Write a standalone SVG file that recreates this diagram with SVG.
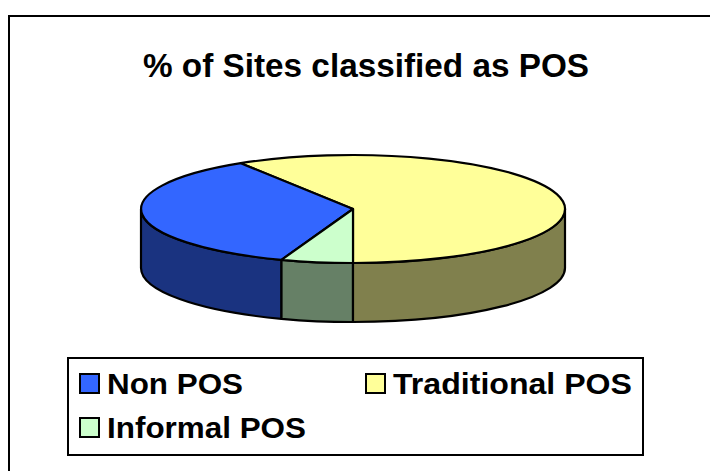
<svg xmlns="http://www.w3.org/2000/svg" width="710" height="471" viewBox="0 0 710 471">
  <style>
    .edge { stroke: #000; stroke-width: 2.2; stroke-linejoin: round; }
    .title { font-family: "Liberation Sans", Arial, sans-serif; font-weight: bold; font-size: 33px; fill: #000; }
    .lbl { font-family: "Liberation Sans", Arial, sans-serif; font-weight: bold; font-size: 29px; fill: #000; }
    .key { stroke: #000; stroke-width: 2; }
  </style>
  <rect x="0" y="0" width="710" height="471" fill="#fff"/>
  <!-- chart area frame -->
  <rect x="9" y="16" width="720" height="480" fill="#fff" stroke="#000" stroke-width="2"/>

  <g id="title">
    <text class="title" x="143" y="77" textLength="446" lengthAdjust="spacingAndGlyphs">% of Sites classified as POS</text>
  </g>

  <!-- pie sides (front half) -->
  <g id="sides" class="edge">
    <path d="M281.5,259.8 A212,54 0 0 1 141,209 L141,268 A212,54 0 0 0 281.5,318.8 Z" fill="#1a3380"/>
    <path d="M353,263 A212,54 0 0 1 281.5,259.8 L281.5,318.8 A212,54 0 0 0 353,322 Z" fill="#668066"/>
    <path d="M565,209 A212,54 0 0 1 353,263 L353,322 A212,54 0 0 0 565,268 Z" fill="#80804d"/>
  </g>

  <!-- pie tops -->
  <g id="slice-traditional" class="edge">
    <path d="M353,209 L240.7,163.2 A212,54 0 1 1 353,263 Z" fill="#ffff99"/>
  </g>
  <g id="slice-non" class="edge">
    <path d="M353,209 L281.5,259.8 A212,54 0 0 1 240.7,163.2 Z" fill="#3366ff"/>
  </g>
  <g id="slice-informal" class="edge">
    <path d="M353,209 L353,263 A212,54 0 0 1 281.5,259.8 Z" fill="#ccffcc"/>
  </g>

  <!-- legend -->
  <g id="legend">
    <rect x="68" y="358" width="575" height="97" fill="#fff" stroke="#000" stroke-width="2"/>
    <rect class="key" x="80" y="374" width="19" height="19" fill="#3366ff"/>
    <text class="lbl" x="107" y="394" textLength="136" lengthAdjust="spacingAndGlyphs">Non POS</text>
    <rect class="key" x="366" y="374" width="19" height="19" fill="#ffff99"/>
    <text class="lbl" x="393" y="394" textLength="239" lengthAdjust="spacingAndGlyphs">Traditional POS</text>
    <rect class="key" x="80" y="418" width="19" height="19" fill="#ccffcc"/>
    <text class="lbl" x="107" y="438" textLength="199" lengthAdjust="spacingAndGlyphs">Informal POS</text>
  </g>
</svg>
